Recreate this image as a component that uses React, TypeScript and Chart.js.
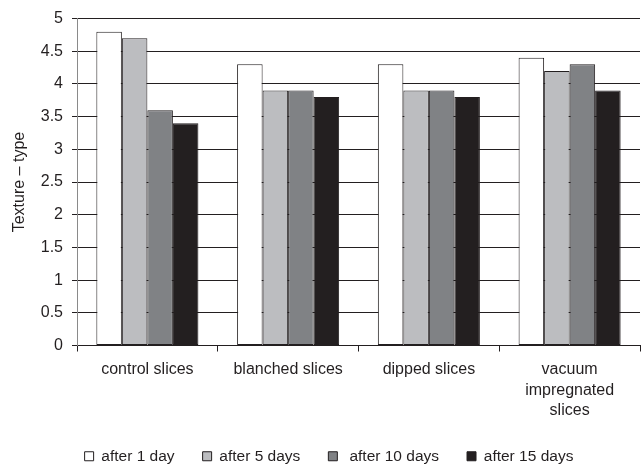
import React, { useEffect, useRef } from "react";
import { Chart, registerables } from "chart.js";

Chart.register(...registerables);

const categories: (string | string[])[] = [
  "control slices",
  "blanched slices",
  "dipped slices",
  ["vacuum", "impregnated", "slices"],
];
const seriesNames = ["after 1 day", "after 5 days", " after 10 days", "after 15 days"];
const after1Day = [4.8, 4.3, 4.3, 4.4];
const after5Days = [4.7, 3.9, 3.9, 4.2];
const after10Days = [3.6, 3.9, 3.9, 4.3];
const after15Days = [3.4, 3.8, 3.8, 3.9];
const seriesColors = ["#ffffff", "#bcbdc0", "#808285", "#231f20"];
const yTicks = [0, 0.5, 1, 1.5, 2, 2.5, 3, 3.5, 4, 4.5, 5];

const FONT = "'Liberation Sans', Arial, sans-serif";

const shiftLegend = {
  id: "shiftLegend",
  afterLayout(chart: any) {
    if (chart.legend) {
      chart.legend.left += 9;
      chart.legend.right += 9;
    }
  },
};

export default function App() {
  const ref = useRef<HTMLCanvasElement | null>(null);
  useEffect(() => {
    if (!ref.current) return;
    const values = [after1Day, after5Days, after10Days, after15Days];
    const chart = new Chart(ref.current, {
      type: "bar",
      data: {
        labels: categories,
        datasets: values.map((v, i) => ({
          label: seriesNames[i],
          data: v,
          backgroundColor: seriesColors[i],
          borderColor: "#231f20",
          borderWidth: 1,
          borderSkipped: false,
          categoryPercentage: 0.725,
          barPercentage: 1,
        })),
      },
      plugins: [shiftLegend],
      options: {
        responsive: false,
        animation: false,
        devicePixelRatio: 1,
        layout: { padding: { top: 13, right: 4, left: 0, bottom: -8 } },
        plugins: {
          tooltip: { enabled: false },
          legend: {
            position: "bottom",
            labels: {
              font: { family: FONT, size: 15.5 },
              color: "#231f20",
              boxWidth: 9,
              boxHeight: 9,
              padding: 28,
            },
          },
        },
        scales: {
          x: {
            offset: true,
            grid: {
              offset: true,
              drawOnChartArea: false,
              drawTicks: true,
              tickLength: 6,
              color: "#231f20",
            },
            border: { color: "#231f20", width: 1 },
            ticks: {
              font: { family: FONT, size: 16, lineHeight: 1.28 },
              color: "#231f20",
              maxRotation: 0,
              padding: 8,
            },
            afterFit: (s: any) => {
              s.height = 75;
            },
          },
          y: {
            min: 0,
            max: 5,
            afterBuildTicks: (s: any) => {
              s.ticks = yTicks.map((v) => ({ value: v }));
            },
            grid: {
              color: "#231f20",
              lineWidth: 1,
              tickLength: 5,
            },
            border: { color: "#8a8a8a", width: 1 },
            ticks: {
              font: { family: FONT, size: 16 },
              color: "#231f20",
              padding: 9,
              callback: (v: any) => String(Number(v)),
            },
            title: {
              display: true,
              text: "Texture – type",
              font: { family: FONT, size: 16 },
              color: "#231f20",
              padding: { top: 10, bottom: 0 },
            },
            afterFit: (s: any) => {
              s.width = 77;
            },
          },
        },
      },
    });
    return () => chart.destroy();
  }, []);
  return (
    <div style={{ position: "absolute", left: 0, top: 0, width: 644, height: 466, background: "#fff" }}>
      <canvas ref={ref} width={644} height={466} />
    </div>
  );
}
